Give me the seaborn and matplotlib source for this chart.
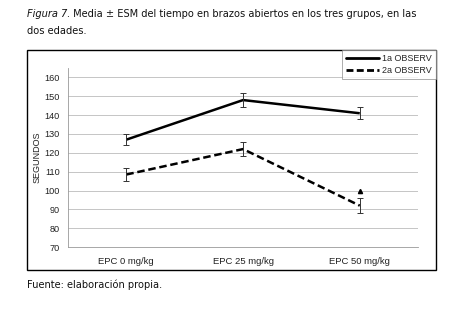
import matplotlib
matplotlib.use("Agg")
import matplotlib.pyplot as plt
from matplotlib.patches import Rectangle
import seaborn as sns
import pandas as pd

categories = ["EPC 0 mg/kg", "EPC 25 mg/kg", "EPC 50 mg/kg"]
obs1_mean = [127, 148, 141]
obs1_sem = [3.0, 3.5, 3.2]
obs2_mean = [108.5, 122, 92]
obs2_sem = [3.2, 3.5, 4.0]
series_names = ["1a OBSERV", "2a OBSERV"]
yticks = [70, 80, 90, 100, 110, 120, 130, 140, 150, 160]
marker_cat = "EPC 50 mg/kg"
marker_y = 99.5

df = pd.DataFrame({
    "grupo": categories * 2,
    "segundos": obs1_mean + obs2_mean,
    "sem": obs1_sem + obs2_sem,
    "serie": [series_names[0]] * 3 + [series_names[1]] * 3,
})

sns.set_style("white")
plt.rcParams["font.family"] = ["Liberation Sans", "DejaVu Sans"]

fig = plt.figure(figsize=(4.53, 3.12), dpi=100)
ax = fig.add_axes([0.150, 0.208, 0.773, 0.574])

sns.lineplot(data=df, x="grupo", y="segundos", hue="serie", style="serie",
             palette=["black", "black"], dashes=[(1, 0), (3, 1.5)],
             linewidth=1.8, sort=False, legend=False, ax=ax)
for name in series_names:
    sub = df[df["serie"] == name]
    ax.errorbar(sub["grupo"], sub["segundos"], yerr=sub["sem"], fmt="none",
                ecolor="#333333", elinewidth=0.7, capsize=2.2, capthick=0.7)
ax.plot([marker_cat], [marker_y], marker="^", color="black", markersize=3, linestyle="none")

ax.set_xlim(-0.5, 2.5)
ax.set_ylim(70, 165)
ax.set_yticks(yticks)
ax.yaxis.grid(True, color="#bbbbbb", linewidth=0.6)
for s in ["top", "right"]:
    ax.spines[s].set_visible(False)
ax.spines["left"].set_color("#999999")
ax.spines["left"].set_linewidth(0.6)
ax.spines["bottom"].set_color("#999999")
ax.spines["bottom"].set_linewidth(0.6)
ax.tick_params(axis="x", labelsize=6.8, length=0, pad=7, colors="#222222")
ax.tick_params(axis="y", labelsize=6.6, length=0, pad=6, colors="#222222")
ax.set_xlabel("")
ax.set_ylabel("SEGUNDOS", fontsize=6.5, labelpad=2, color="#222222")

handles = [plt.Line2D([], [], color="black", lw=2.0),
           plt.Line2D([], [], color="black", lw=2.0, dashes=(2.5, 1.2))]
leg = fig.legend(handles, series_names, loc="upper right",
                 bbox_to_anchor=(436 / 453, 1 - 50 / 312), fontsize=6.5,
                 frameon=True, fancybox=False, borderpad=0.45, handlelength=3.6,
                 labelspacing=0.35, handletextpad=0.4, borderaxespad=0)
leg.get_frame().set_edgecolor("#888888")
leg.get_frame().set_linewidth(0.6)

fig.patches.append(Rectangle((27 / 453, 1 - 270 / 312), 409 / 453, 220 / 312,
                             transform=fig.transFigure, fill=False,
                             edgecolor="black", linewidth=1.0, zorder=0))

t1 = fig.text(27 / 453, 1 - 14 / 312, "Figura 7.", fontsize=7.1, style="italic",
              family=["DejaVu Sans"], va="center", color="#111111")
ax.annotate(" Media ± ESM del tiempo en brazos abiertos en los tres grupos, en las",
            xy=(1, 0.5), xycoords=t1, va="center", ha="left", fontsize=7.1,
            family=["DejaVu Sans"], annotation_clip=False, color="#111111")
fig.text(27 / 453, 1 - 31 / 312, "dos edades.", fontsize=7.1,
         family=["DejaVu Sans"], va="center", color="#111111")
fig.text(27 / 453, 1 - 285 / 312, "Fuente: elaboración propia.", fontsize=7.1,
         family=["DejaVu Sans"], va="center", color="#111111")

fig.savefig("out.png", dpi=100)
